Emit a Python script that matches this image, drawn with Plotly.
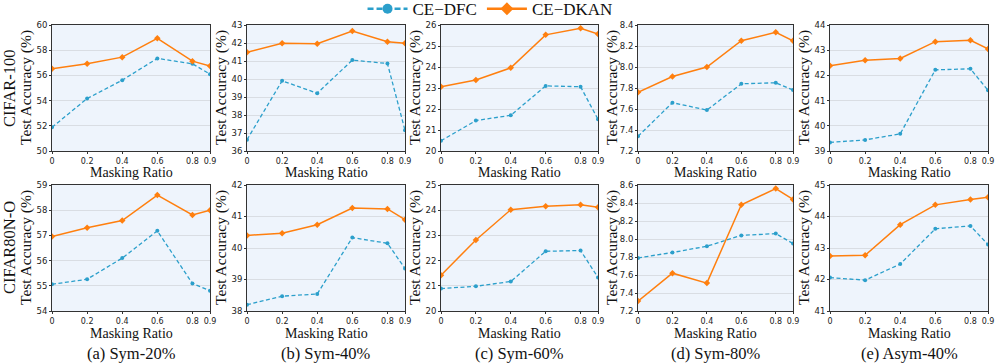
import plotly.graph_objects as go

masking_ratio = [0, 0.2, 0.4, 0.6, 0.8, 0.9]
x_tick_labels = ["0", "0.2", "0.4", "0.6", "0.8", "0.9"]

row_labels = ["CIFAR-100", "CIFAR80N-O"]
captions = ["(a) Sym-20%", "(b) Sym-40%", "(c) Sym-60%", "(d) Sym-80%", "(e) Asym-40%"]

# CIFAR-100
dfc_c100_sym20 = [51.88, 54.16, 55.62, 57.35, 56.92, 56.10]
dkan_c100_sym20 = [56.52, 56.92, 57.45, 58.94, 57.13, 56.74]
dfc_c100_sym40 = [36.63, 39.90, 39.21, 41.05, 40.86, 37.15]
dkan_c100_sym40 = [41.49, 41.98, 41.96, 42.67, 42.07, 41.98]
dfc_c100_sym60 = [20.49, 21.45, 21.70, 23.10, 23.06, 21.51]
dkan_c100_sym60 = [23.06, 23.38, 23.96, 25.53, 25.84, 25.57]
dfc_c100_sym80 = [7.34, 7.66, 7.59, 7.84, 7.85, 7.78]
dkan_c100_sym80 = [7.76, 7.91, 8.00, 8.25, 8.33, 8.25]
dfc_c100_asym40 = [39.34, 39.44, 39.68, 42.22, 42.26, 41.41]
dkan_c100_asym40 = [42.38, 42.60, 42.67, 43.34, 43.39, 43.05]

# CIFAR80N-O
dfc_c80_sym20 = [55.06, 55.26, 56.10, 57.18, 55.09, 54.80]
dkan_c80_sym20 = [56.96, 57.30, 57.59, 58.60, 57.81, 58.00]
dfc_c80_sym40 = [38.20, 38.47, 38.54, 40.33, 40.15, 39.35]
dkan_c80_sym40 = [40.40, 40.47, 40.74, 41.27, 41.24, 40.90]
dfc_c80_sym60 = [20.89, 20.98, 21.17, 22.37, 22.40, 21.33]
dkan_c80_sym60 = [21.42, 22.82, 24.02, 24.16, 24.22, 24.12]
dfc_c80_sym80 = [7.79, 7.85, 7.92, 8.04, 8.06, 7.95]
dkan_c80_sym80 = [7.31, 7.62, 7.51, 8.38, 8.56, 8.44]
dfc_c80_asym40 = [42.06, 41.98, 42.49, 43.61, 43.70, 43.11]
dkan_c80_asym40 = [42.75, 42.77, 43.74, 44.37, 44.54, 44.61]

y_ranges = [
    [[50, 60, 2], [36, 43, 1], [20, 26, 1], [7.2, 8.4, 0.2], [39, 44, 1]],
    [[54, 59, 1], [38, 42, 1], [20, 25, 1], [7.2, 8.6, 0.2], [41, 45, 1]],
]
dfc_data = [
    [dfc_c100_sym20, dfc_c100_sym40, dfc_c100_sym60, dfc_c100_sym80, dfc_c100_asym40],
    [dfc_c80_sym20, dfc_c80_sym40, dfc_c80_sym60, dfc_c80_sym80, dfc_c80_asym40],
]
dkan_data = [
    [dkan_c100_sym20, dkan_c100_sym40, dkan_c100_sym60, dkan_c100_sym80, dkan_c100_asym40],
    [dkan_c80_sym20, dkan_c80_sym40, dkan_c80_sym60, dkan_c80_sym80, dkan_c80_asym40],
]

W, H = 996, 364
col_px = [(52, 210), (247, 405), (441, 598), (638, 793), (830, 988)]
row_px = [(25, 151), (185, 311)]

BLUE = "#2b9fcb"
ORANGE = "#ff7f0e"
SERIF = "Liberation Serif"
SANS = "DejaVu Sans"

fig = go.Figure()
annotations = []
layout_axes = {}

# legend-only traces with larger symbols
fig.add_trace(go.Scatter(
    x=[None], y=[None], mode="lines+markers", name="CE\u2212DFC",
    line=dict(color=BLUE, width=2.5, dash="6px,3px"),
    marker=dict(symbol="circle", size=10, color=BLUE),
))
fig.add_trace(go.Scatter(
    x=[None], y=[None], mode="lines+markers", name="CE\u2212DKAN",
    line=dict(color=ORANGE, width=2.5),
    marker=dict(symbol="diamond", size=10, color=ORANGE),
))

for r in range(2):
    for c in range(5):
        idx = r * 5 + c + 1
        xa = "x" if idx == 1 else f"x{idx}"
        ya = "y" if idx == 1 else f"y{idx}"
        xk = "xaxis" if idx == 1 else f"xaxis{idx}"
        yk = "yaxis" if idx == 1 else f"yaxis{idx}"
        x0, x1 = col_px[c]
        y0, y1 = row_px[r]
        lo, hi, dt = y_ranges[r][c]
        n = int(round((hi - lo) / dt))
        yt = [round(lo + i * dt, 2) for i in range(n + 1)]
        ytext = [f"{v:.1f}" if dt < 1 else f"{int(round(v))}" for v in yt]
        layout_axes[xk] = dict(
            domain=[x0 / W, x1 / W], anchor=ya, range=[0, 0.9],
            tickvals=masking_ratio, ticktext=x_tick_labels,
            showgrid=False, zeroline=False,
            showline=True, linecolor="#333333", linewidth=1, mirror=True,
            ticks="outside", ticklen=2, tickcolor="#333333",
            tickfont=dict(family=SANS, size=8, color="#222222"),
        )
        layout_axes[yk] = dict(
            domain=[1 - y1 / H, 1 - y0 / H], anchor=xa, range=[lo, hi],
            tickvals=yt, ticktext=ytext,
            showgrid=True, gridcolor="#d9dde3", gridwidth=1, zeroline=False,
            showline=True, linecolor="#333333", linewidth=1, mirror=True,
            ticks="outside", ticklen=2, tickcolor="#333333",
            tickfont=dict(family=SANS, size=8.5, color="#222222"),
        )
        fig.add_trace(go.Scatter(
            x=masking_ratio, y=dfc_data[r][c], xaxis=xa, yaxis=ya,
            mode="lines+markers", name="CE\u2212DFC", showlegend=False,
            line=dict(color=BLUE, width=1.3, dash="4px,2.5px"),
            marker=dict(symbol="circle", size=4, color=BLUE),
        ))
        fig.add_trace(go.Scatter(
            x=masking_ratio, y=dkan_data[r][c], xaxis=xa, yaxis=ya,
            mode="lines+markers", name="CE\u2212DKAN", showlegend=False,
            line=dict(color=ORANGE, width=1.5),
            marker=dict(symbol="diamond", size=5, color=ORANGE),
        ))
        annotations.append(dict(
            text="Test Accuracy (%)", xref="paper", yref="paper",
            x=(x0 - 26) / W, y=1 - (y0 + y1) / 2 / H, textangle=-90,
            showarrow=False, xanchor="center", yanchor="middle",
            font=dict(family=SERIF, size=15.5, color="#111111"),
        ))
        ty = 172 if r == 0 else 333
        annotations.append(dict(
            text="Masking Ratio", xref="paper", yref="paper",
            x=(x0 + x1) / 2 / W, y=1 - ty / H,
            showarrow=False, xanchor="center", yanchor="middle",
            font=dict(family=SERIF, size=14, color="#111111"),
        ))
        if r == 1:
            annotations.append(dict(
                text=captions[c], xref="paper", yref="paper",
                x=(x0 + x1) / 2 / W, y=1 - 353 / H,
                showarrow=False, xanchor="center", yanchor="middle",
                font=dict(family=SERIF, size=16.5, color="#111111"),
            ))
    annotations.append(dict(
        text=row_labels[r], xref="paper", yref="paper",
        x=9 / W, y=1 - (row_px[r][0] + row_px[r][1]) / 2 / H, textangle=-90,
        showarrow=False, xanchor="center", yanchor="middle",
        font=dict(family=SERIF, size=16.5, color="#111111"),
    ))

fig.update_layout(
    width=W, height=H,
    margin=dict(l=0, r=0, t=0, b=0, autoexpand=False),
    paper_bgcolor="white", plot_bgcolor="#eef4fc",
    showlegend=True,
    legend=dict(orientation="h", x=0.492, xanchor="center", y=1.024, yanchor="top",
                font=dict(family=SERIF, size=17, color="#111111"),
                bgcolor="rgba(0,0,0,0)", itemwidth=40, tracegroupgap=0,
                borderwidth=0),
    annotations=annotations,
    **layout_axes,
)

fig.write_html("out.html", config={"displayModeBar": False},
               post_script="document.body.style.margin='0';")
